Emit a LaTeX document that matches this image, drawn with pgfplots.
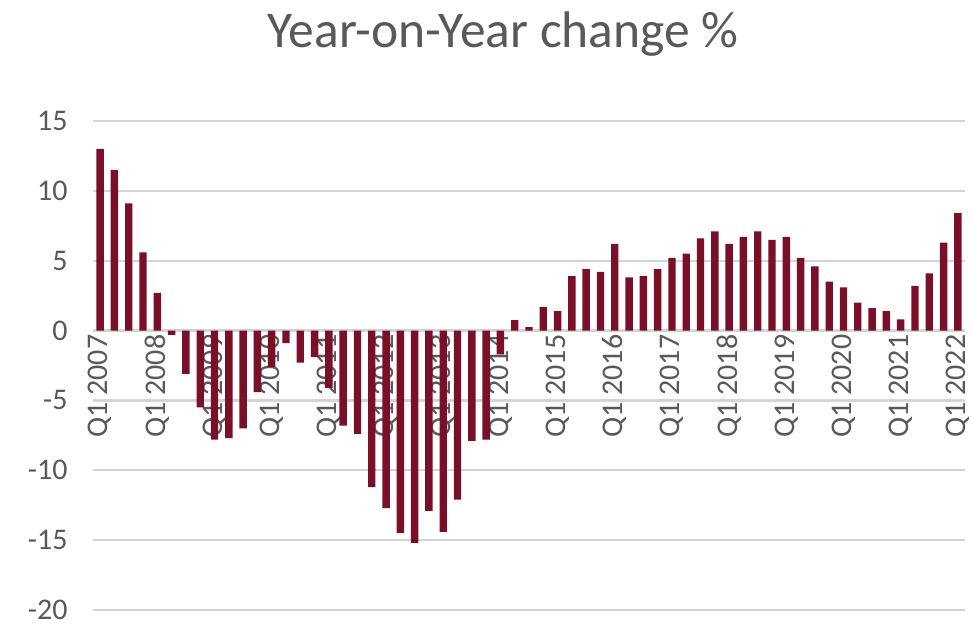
\documentclass[border=0pt]{standalone}
\usepackage{fontspec}
\setmainfont{Carlito}
\usepackage{pgfplots}
\usepackage{pgfplotstable}
\pgfplotsset{compat=1.18}
\definecolor{barred}{HTML}{7A1028}
\definecolor{txt}{HTML}{595959}
\definecolor{gridc}{HTML}{D4D4D4}
\pgfplotstableread{
x y
1 13.0
2 11.5
3 9.1
4 5.6
5 2.7
6 -0.3
7 -3.1
8 -5.5
9 -7.8
10 -7.7
11 -7.0
12 -4.4
13 -2.6
14 -0.9
15 -2.3
16 -1.9
17 -4.1
18 -6.8
19 -7.4
20 -11.2
21 -12.7
22 -14.5
23 -15.2
24 -12.9
25 -14.4
26 -12.1
27 -7.9
28 -7.8
29 -1.7
30 0.75
31 0.25
32 1.7
33 1.4
34 3.9
35 4.4
36 4.2
37 6.2
38 3.8
39 3.9
40 4.4
41 5.2
42 5.5
43 6.6
44 7.1
45 6.2
46 6.7
47 7.1
48 6.5
49 6.7
50 5.2
51 4.6
52 3.5
53 3.1
54 2.0
55 1.6
56 1.4
57 0.8
58 3.2
59 4.1
60 6.3
61 8.4
}\data
\begin{document}
\begin{tikzpicture}
\useasboundingbox (-93pt,-16pt) rectangle (879pt,610pt);
\begin{axis}[
  at={(0pt,0pt)}, anchor=south west,
  scale only axis, width=872pt, height=489pt,
  xmin=0.5, xmax=61.5, ymin=-20, ymax=15,
  ytick={-20,-15,...,15},
  xtick={1,5,...,61},
  xticklabels={Q1 2007,Q1 2008,Q1 2009,Q1 2010,Q1 2011,Q1 2012,Q1 2013,Q1 2014,Q1 2015,Q1 2016,Q1 2017,Q1 2018,Q1 2019,Q1 2020,Q1 2021,Q1 2022},
  axis x line=middle, axis y line=left,
  axis line style={draw=none},
  major tick length=0pt,
  ymajorgrids, grid style={gridc, line width=2.2pt},
  tick label style={font=\fontsize{30}{36}\selectfont, text=txt},
  /pgf/number format/assume math mode=true,
  xticklabel style={rotate=90, anchor=east, inner sep=4pt},
  yticklabel style={anchor=east, xshift=-22pt},
  clip=false,
]
\addplot[ybar, bar width=7.4pt, fill=barred, draw=none] table[x=x,y=y]{\data};
\end{axis}
\node[anchor=base, font=\fontsize{51.5}{60}\selectfont, text=txt] at (410pt,562pt) {Year-on-Year change \%};
\end{tikzpicture}
\end{document}
